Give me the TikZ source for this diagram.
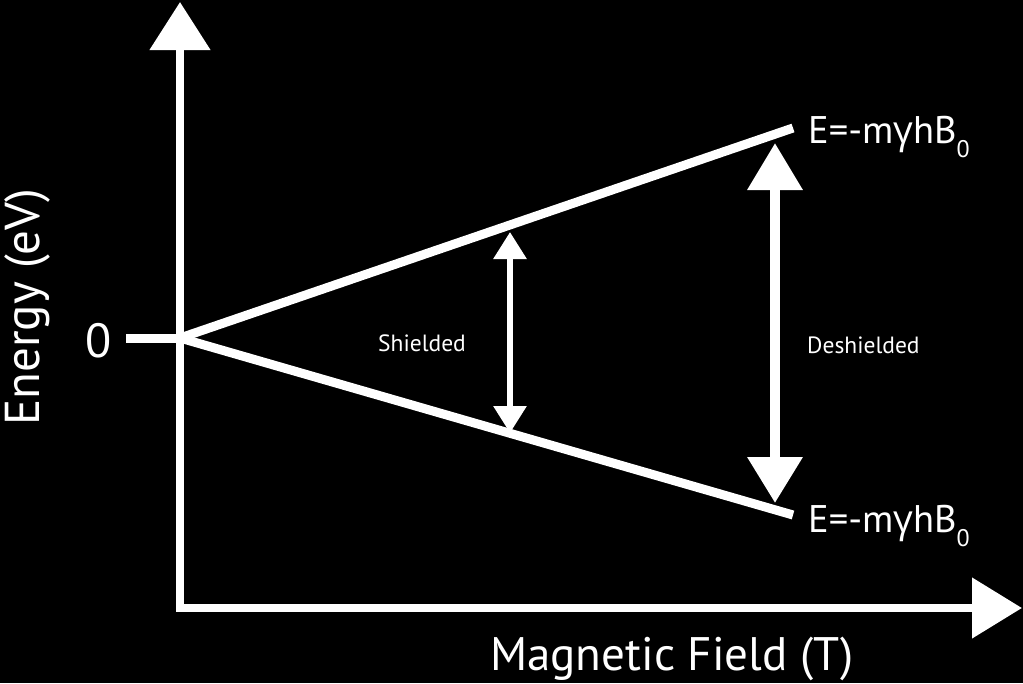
\documentclass[tikz,border=0pt]{standalone}
\usepackage{fontspec}
\setmainfont{PT Sans}
\newfontfamily\gfont{Open Sans}
\usetikzlibrary{arrows.meta}
\tikzset{
  wline/.style={draw=white,line width=#1},
  lbl/.style={text=white,inner sep=0pt,anchor=base west},
}
\newcommand{\elabel}{E=-m{\gfont γ}hB\raisebox{-14pt}{\fontsize{24}{28}\selectfont 0}}
\begin{document}
\begin{tikzpicture}[x=1pt,y=-1pt]
\fill[black] (0,0) rectangle (1023,683);
\useasboundingbox (0,0) rectangle (1023,683);
% axes
\coordinate (ytip) at (180,2);
\coordinate (O) at (180,608);
\coordinate (xtip) at (1022,608);
\draw[wline=8,line join=miter,{Triangle[width=59pt,length=48pt]}-{Triangle[width=59pt,length=50pt]}] (ytip) -- (O) -- (xtip);
% zero tick
\coordinate (z0) at (126,338);
\coordinate (Z) at (180,338);
\draw[wline=9] (z0) -- (Z);
% energy lines
\coordinate (up) at (793,128);
\coordinate (lo) at (793,515);
\draw[wline=9] (Z) -- (up);
\draw[wline=9] (Z) -- (lo);
% shielded arrow
\coordinate (s1) at (510,232);
\coordinate (s2) at (510,433);
\draw[wline=6,{Triangle[width=32pt,length=27pt]}-{Triangle[width=32pt,length=27pt]}] (s1) -- (s2);
% deshielded arrow
\coordinate (d1) at (775,143);
\coordinate (d2) at (775,503);
\draw[wline=10,{Triangle[width=53pt,length=47pt]}-{Triangle[width=53pt,length=46pt]}] (d1) -- (d2);
% labels
\node[lbl,font=\fontsize{38.5}{46}\selectfont] (eu) at (808,143) {\elabel};
\node[lbl,font=\fontsize{38.5}{46}\selectfont] (el) at (808,532) {\elabel};
\node[lbl,font=\fontsize{48}{56}\selectfont] (zero) at (85,357) {0};
\node[lbl,font=\fontsize{23.5}{28}\selectfont] (sh) at (378,351) {Shielded};
\node[lbl,font=\fontsize{23.5}{28}\selectfont] (dsh) at (807,353) {Deshielded};
\node[lbl,font=\fontsize{47}{56}\selectfont] (xl) at (490,670) {Magnetic Field (T)};
\node[lbl,rotate=90,font=\fontsize{49}{58}\selectfont] (yl) at (39,426) {Energy (eV)};
\end{tikzpicture}
\end{document}
